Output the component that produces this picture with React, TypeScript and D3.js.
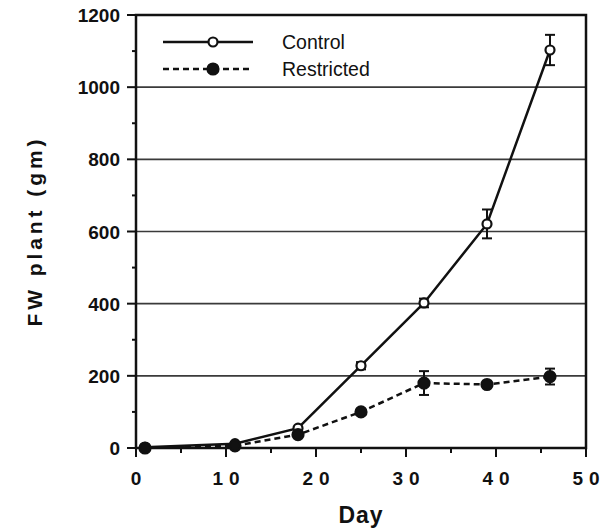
import React, { useEffect, useRef } from "react";
import * as d3 from "d3";

const days = [1, 11, 18, 25, 32, 39, 46];
const controlFW = [2, 12, 55, 228, 402, 621, 1103];
const controlErr = [0, 0, 0, 10, 12, 40, 42];
const restrictedFW = [0, 6, 37, 100, 180, 176, 198];
const restrictedErr = [0, 0, 0, 6, 33, 8, 22];
const xTicks = [0, 10, 20, 30, 40, 50];
const yTicks = [0, 200, 400, 600, 800, 1000, 1200];

const FONT = "'Liberation Sans', Arial, Helvetica, sans-serif";

const App = () => {
  const svgRef = useRef<SVGSVGElement>(null);

  useEffect(() => {
    const svg = d3.select(svgRef.current);
    svg.selectAll("*").remove();

    const x = d3.scaleLinear().domain([0, 50]).range([136, 586]);
    const y = d3.scaleLinear().domain([0, 1200]).range([448, 15]);

    // grid lines
    svg
      .append("g")
      .selectAll("line")
      .data(yTicks.filter((t) => t > 0 && t < 1200))
      .join("line")
      .attr("x1", x(0))
      .attr("x2", x(50))
      .attr("y1", (d) => y(d))
      .attr("y2", (d) => y(d))
      .attr("stroke", "#3a3a3a")
      .attr("stroke-width", 1.6);

    // ticks
    const minorY = d3.range(100, 1200, 200);
    svg
      .append("g")
      .selectAll("line")
      .data(minorY)
      .join("line")
      .attr("x1", x(0) - 4)
      .attr("x2", x(0))
      .attr("y1", (d) => y(d))
      .attr("y2", (d) => y(d))
      .attr("stroke", "#111")
      .attr("stroke-width", 2);
    svg
      .append("g")
      .selectAll("line")
      .data(yTicks)
      .join("line")
      .attr("x1", x(0) - 9)
      .attr("x2", x(0))
      .attr("y1", (d) => y(d))
      .attr("y2", (d) => y(d))
      .attr("stroke", "#111")
      .attr("stroke-width", 2);

    const minorX = d3.range(5, 50, 10);
    svg
      .append("g")
      .selectAll("line")
      .data(minorX)
      .join("line")
      .attr("x1", (d) => x(d))
      .attr("x2", (d) => x(d))
      .attr("y1", y(0))
      .attr("y2", y(0) + 5)
      .attr("stroke", "#111")
      .attr("stroke-width", 2);
    svg
      .append("g")
      .selectAll("line")
      .data(xTicks)
      .join("line")
      .attr("x1", (d) => x(d))
      .attr("x2", (d) => x(d))
      .attr("y1", y(0))
      .attr("y2", y(0) + 9)
      .attr("stroke", "#111")
      .attr("stroke-width", 2);

    // frame
    svg
      .append("rect")
      .attr("x", x(0))
      .attr("y", y(1200))
      .attr("width", x(50) - x(0))
      .attr("height", y(0) - y(1200))
      .attr("fill", "none")
      .attr("stroke", "#111")
      .attr("stroke-width", 2.5);

    // tick labels
    svg
      .append("g")
      .selectAll("text")
      .data(yTicks)
      .join("text")
      .attr("x", x(0) - 16)
      .attr("y", (d) => y(d) + 7)
      .attr("text-anchor", "end")
      .attr("font-family", FONT)
      .attr("font-weight", "bold")
      .attr("font-size", 19)
      .attr("fill", "#111")
      .text((d) => d);

    // spaced-out day labels (gap added between digits with tspans)
    const xl = svg
      .append("g")
      .selectAll("text")
      .data(xTicks)
      .join("text")
      .attr("x", (d) => x(d))
      .attr("y", 485)
      .attr("text-anchor", "middle")
      .attr("font-family", FONT)
      .attr("font-weight", "bold")
      .attr("font-size", 19)
      .attr("fill", "#111");
    xl.each(function (d) {
      const t = d3.select(this);
      String(d)
        .split("")
        .forEach((ch, i) => {
          t.append("tspan").attr("dx", i > 0 ? 6 : 0).text(ch);
        });
    });

    // axis titles
    svg
      .append("text")
      .attr("x", (x(0) + x(50)) / 2)
      .attr("y", 523)
      .attr("text-anchor", "middle")
      .attr("font-family", FONT)
      .attr("font-weight", "bold")
      .attr("font-size", 23)
      .attr("letter-spacing", 1)
      .attr("fill", "#111")
      .text("Day");

    svg
      .append("text")
      .attr("transform", "translate(42,233) rotate(-90)")
      .attr("text-anchor", "middle")
      .attr("font-family", FONT)
      .attr("font-weight", "bold")
      .attr("font-size", 21)
      .attr("textLength", 187)
      .attr("lengthAdjust", "spacing")
      .attr("fill", "#111")
      .text("FW  plant  (gm)");

    const series = [
      { vals: controlFW, err: controlErr, dash: null, filled: false },
      { vals: restrictedFW, err: restrictedErr, dash: "6,4", filled: true },
    ];

    const line = d3
      .line<number>()
      .x((_, i) => x(days[i]))
      .y((d) => y(d));

    series.forEach((s) => {
      svg
        .append("path")
        .attr("d", line(s.vals))
        .attr("fill", "none")
        .attr("stroke", "#111")
        .attr("stroke-width", 2.5)
        .attr("stroke-dasharray", s.dash);

      const eb = svg.append("g").attr("stroke", "#111").attr("stroke-width", 2);
      s.vals.forEach((v, i) => {
        if (!s.err[i]) return;
        const cx = x(days[i]);
        const top = y(v + s.err[i]);
        const bot = y(v - s.err[i]);
        eb.append("line").attr("x1", cx).attr("x2", cx).attr("y1", top).attr("y2", bot);
        eb.append("line").attr("x1", cx - 5).attr("x2", cx + 5).attr("y1", top).attr("y2", top);
        eb.append("line").attr("x1", cx - 5).attr("x2", cx + 5).attr("y1", bot).attr("y2", bot);
      });

      svg
        .append("g")
        .selectAll("circle")
        .data(s.vals)
        .join("circle")
        .attr("cx", (_, i) => x(days[i]))
        .attr("cy", (d) => y(d))
        .attr("r", s.filled ? 5.5 : 4.5)
        .attr("fill", s.filled ? "#111" : "#fff")
        .attr("stroke", "#111")
        .attr("stroke-width", 2.2);
    });

    // legend
    const legend = [
      { label: "Control", ly: 42, dash: null, filled: false },
      { label: "Restricted", ly: 69, dash: "6,4", filled: true },
    ];
    legend.forEach((l) => {
      svg
        .append("line")
        .attr("x1", 163)
        .attr("x2", 253)
        .attr("y1", l.ly)
        .attr("y2", l.ly)
        .attr("stroke", "#111")
        .attr("stroke-width", 2.5)
        .attr("stroke-dasharray", l.dash);
      svg
        .append("circle")
        .attr("cx", 213)
        .attr("cy", l.ly)
        .attr("r", l.filled ? 5.5 : 4.5)
        .attr("fill", l.filled ? "#111" : "#fff")
        .attr("stroke", "#111")
        .attr("stroke-width", 2.2);
      svg
        .append("text")
        .attr("x", 282)
        .attr("y", l.ly + 7)
        .attr("font-family", FONT)
        .attr("font-size", 19.5)
        .attr("fill", "#111")
        .text(l.label);
    });
  }, []);

  return (
    <svg
      ref={svgRef}
      width={602}
      height={530}
      style={{ position: "absolute", left: 0, top: 0, background: "#fff" }}
    ></svg>
  );
};

export default App;
